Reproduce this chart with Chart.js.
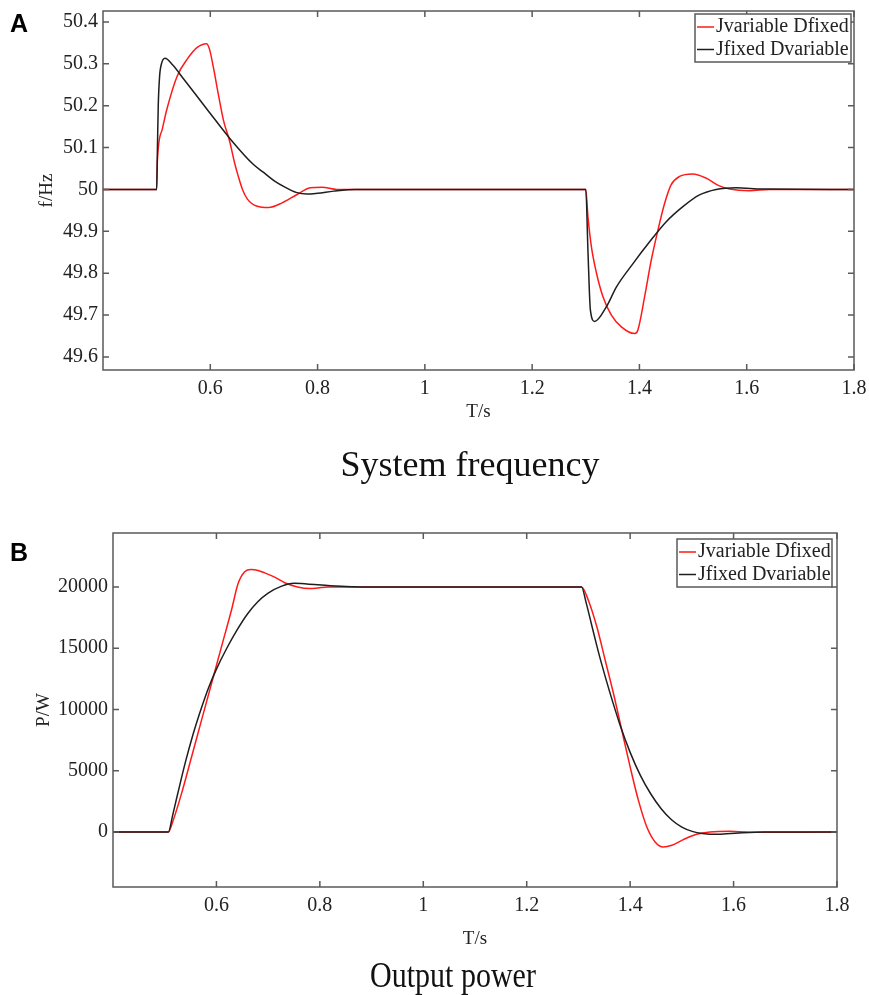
<!DOCTYPE html>
<html>
<head>
<meta charset="utf-8">
<script src="https://cdn.jsdelivr.net/npm/chart.js@4.4.1/dist/chart.umd.min.js"></script>
<style>
body { margin: 0; background: #fff; width: 869px; height: 995px; position: relative; overflow: hidden; }
canvas { position: absolute; left: 0; }
.tag { position: absolute; font: bold 25px "Liberation Sans", Arial, sans-serif; color: #000; line-height: 1; }
.cap { position: absolute; font-family: "Liberation Serif", "Times New Roman", serif; color: #111; line-height: 1; white-space: nowrap; transform: translate(-50%, -50%); }
</style>
</head>
<body>
<canvas id="chartFreq" width="869" height="490" style="top:0"></canvas>
<canvas id="chartPower" width="869" height="505" style="top:490px"></canvas>
<div class="tag" style="left:10px;top:11px">A</div>
<div class="tag" style="left:10px;top:540px">B</div>
<div class="cap" style="left:470px;top:464px;font-size:36px">System frequency</div>
<div class="cap" style="left:453px;top:975px;font-size:30px;transform:translate(-50%,-50%) scaleY(1.22)">Output power</div>
<script>
// series labels
var seriesNames = ["Jvariable Dfixed", "Jfixed Dvariable"];

// A: system frequency (Hz) vs time (s)
var freqRedT = [0.4, 0.5, 0.5012, 0.5105, 0.5198, 0.5384, 0.557, 0.5756, 0.5929, 0.5985, 0.606, 0.6153, 0.6246, 0.6363, 0.645, 0.6525, 0.66, 0.6692, 0.6873, 0.7088, 0.7338, 0.7617, 0.7864, 0.8082, 0.836, 1.3, 1.304, 1.3105, 1.32, 1.332, 1.3477, 1.3663, 1.391, 1.397, 1.4097, 1.422, 1.4345, 1.447, 1.459, 1.4748, 1.4996, 1.5245, 1.549, 1.568, 1.605, 1.642, 1.8];
var freqRed  = [50, 50, 50.064, 50.144, 50.195, 50.271, 50.311, 50.339, 50.348, 50.335, 50.29, 50.225, 50.165, 50.114, 50.065, 50.03, 50.0, 49.977, 49.96, 49.957, 49.968, 49.988, 50.004, 50.0055, 50.0, 50, 49.935, 49.863, 49.80, 49.744, 49.70, 49.672, 49.656, 49.664, 49.744, 49.831, 49.903, 49.967, 50.011, 50.031, 50.037, 50.027, 50.0085, 50.001, 49.997, 50.0, 50];
var freqBlackT = [0.4, 0.5, 0.5015, 0.503, 0.5055, 0.509, 0.5155, 0.53, 0.5507, 0.5942, 0.6376, 0.68, 0.70, 0.72, 0.74, 0.76, 0.78, 0.80, 0.83, 0.87, 1.3, 1.304, 1.3086, 1.3167, 1.3384, 1.357, 1.388, 1.419, 1.45, 1.481, 1.512, 1.543, 1.58, 1.63, 1.8];
var freqBlack  = [50, 50, 50.1, 50.2, 50.27, 50.3, 50.313, 50.297, 50.263, 50.191, 50.12, 50.06, 50.04, 50.02, 50.005, 49.993, 49.989, 49.991, 49.996, 50, 50, 49.855, 49.712, 49.685, 49.72, 49.767, 49.823, 49.875, 49.923, 49.959, 49.987, 50.0, 50.004, 50.001, 50];

// B: output power (W) vs time (s)
var powRedT = [0.4, 0.507, 0.5166, 0.5326, 0.552, 0.5712, 0.5905, 0.6097, 0.629, 0.6419, 0.6547, 0.6667, 0.6805, 0.6933, 0.7125, 0.732, 0.757, 0.78, 0.796, 0.815, 1.306, 1.3197, 1.336, 1.352, 1.368, 1.384, 1.4001, 1.416, 1.4323, 1.4483, 1.4643, 1.4805, 1.5028, 1.5286, 1.5543, 1.593, 1.63, 1.8];
var powRed  = [0, 0, 980, 3150, 6140, 9130, 12120, 15110, 18100, 20280, 21250, 21420, 21350, 21150, 20800, 20350, 20000, 19870, 19920, 20000, 20000, 18860, 16690, 13976, 11262, 8277, 5292, 2578, 407, -814, -1221, -1085, -624, -190, 0, 54, -27, 0];
var powBlackT = [0.4, 0.507, 0.515, 0.525, 0.54, 0.555, 0.57, 0.585, 0.6, 0.62, 0.64, 0.66, 0.68, 0.70, 0.725, 0.75, 0.775, 0.82, 0.9, 1.306, 1.315, 1.325, 1.335, 1.345, 1.36, 1.38, 1.40, 1.42, 1.44, 1.46, 1.48, 1.50, 1.52, 1.54, 1.57, 1.61, 1.66, 1.8];
var powBlack  = [0, 0, 1300, 3100, 5700, 8000, 10000, 11800, 13300, 15000, 16500, 17800, 18800, 19500, 20050, 20300, 20250, 20100, 20000, 20000, 18700, 17000, 15300, 13700, 11500, 8800, 6500, 4600, 3100, 1900, 1000, 400, 50, -120, -190, -80, 0, 0];

// tick labels
var timeTicks = [0.6, 0.8, 1.0, 1.2, 1.4, 1.6, 1.8];
var freqTicks = [49.6, 49.7, 49.8, 49.9, 50.0, 50.1, 50.2, 50.3, 50.4];
var powTicks  = [0, 5000, 10000, 15000, 20000];

var SERIF = "'Liberation Serif', 'Times New Roman', serif";
var RED = "#ff1a1a", BLACK = "#1e1e1e", FRAME = "#5a5a5a", TEXT = "#222";

function zip(xs, ys) {
	return xs.map(function(x, i) { return { x: x, y: ys[i] }; });
}

function fmt(v) { return String(+v.toFixed(2)); }

// MATLAB-style box with inward ticks on all four sides
var frameTicks = {
	id: 'frameTicks',
	afterDatasetsDraw: function(chart) {
		var ctx = chart.ctx, a = chart.chartArea, x = chart.scales.x, y = chart.scales.y, L = 6;
		ctx.save();
		ctx.strokeStyle = FRAME;
		ctx.lineWidth = 1.5;
		ctx.strokeRect(a.left, a.top, a.right - a.left, a.bottom - a.top);
		ctx.beginPath();
		x.ticks.forEach(function(t) {
			var px = x.getPixelForValue(t.value);
			ctx.moveTo(px, a.bottom); ctx.lineTo(px, a.bottom - L);
			ctx.moveTo(px, a.top); ctx.lineTo(px, a.top + L);
		});
		y.ticks.forEach(function(t) {
			var py = y.getPixelForValue(t.value);
			ctx.moveTo(a.left, py); ctx.lineTo(a.left + L, py);
			ctx.moveTo(a.right, py); ctx.lineTo(a.right - L, py);
		});
		ctx.stroke();
		ctx.restore();
	}
};

// boxed legend in the top right corner of the plot
var boxLegend = {
	id: 'boxLegend',
	afterDraw: function(chart, args, o) {
		var ctx = chart.ctx, a = chart.chartArea;
		var left = a.right - o.right - o.width, top = a.top + o.top;
		ctx.save();
		ctx.fillStyle = "#fff";
		ctx.fillRect(left, top, o.width, o.height);
		ctx.strokeStyle = FRAME;
		ctx.lineWidth = 1.5;
		ctx.strokeRect(left, top, o.width, o.height);
		ctx.font = "20px " + SERIF;
		ctx.textBaseline = "middle";
		chart.data.datasets.forEach(function(ds, i) {
			var yy = top + 13 + i * 22.5;
			ctx.strokeStyle = ds.borderColor;
			ctx.lineWidth = 1.5;
			ctx.beginPath(); ctx.moveTo(left + 2, yy); ctx.lineTo(left + 19, yy); ctx.stroke();
			ctx.fillStyle = TEXT;
			ctx.fillText(ds.label, left + 21, yy);
		});
		ctx.restore();
	}
};

function makeChart(id, c) {
	return new Chart(document.getElementById(id), {
		type: 'line',
		data: {
			datasets: [
				{ label: seriesNames[0], data: zip(c.redT, c.red), borderColor: RED, order: 1 },
				{ label: seriesNames[1], data: zip(c.blackT, c.black), borderColor: BLACK, order: 0 }
			]
		},
		plugins: [frameTicks, boxLegend],
		options: {
			responsive: false,
			animation: false,
			devicePixelRatio: 1,
			elements: {
				line: { borderWidth: 1.5, cubicInterpolationMode: 'monotone', fill: false },
				point: { radius: 0 }
			},
			layout: { padding: c.pad },
			plugins: {
				legend: { display: false },
				tooltip: { enabled: false },
				boxLegend: c.legend
			},
			scales: {
				x: {
					type: 'linear', min: 0.4, max: 1.8,
					afterBuildTicks: function(s) { s.ticks = timeTicks.map(function(v) { return { value: v }; }); },
					afterFit: function(s) { s.height = c.xHeight; s.paddingLeft = 0; s.paddingRight = 0; },
					grid: { display: false, drawTicks: false },
					border: { display: false },
					ticks: { autoSkip: false, maxRotation: 0, padding: 7, color: TEXT, font: { family: SERIF, size: 20 }, callback: fmt },
					title: { display: true, text: 'T/s', color: TEXT, font: { family: SERIF, size: 19 }, padding: { top: 0, bottom: c.xTitlePadB } }
				},
				y: {
					type: 'linear', min: c.yMin, max: c.yMax,
					afterBuildTicks: function(s) { s.ticks = c.yTicks.map(function(v) { return { value: v }; }); },
					afterFit: function(s) { s.width = c.yWidth; s.paddingTop = 0; s.paddingBottom = 0; },
					grid: { display: false, drawTicks: false },
					border: { display: false },
					ticks: { autoSkip: false, padding: 5, color: TEXT, font: { family: SERIF, size: 20 }, callback: fmt },
					title: { display: true, text: c.yTitle, color: TEXT, font: { family: SERIF, size: 19 }, padding: { top: c.yTitlePadT, bottom: 0 } }
				}
			}
		}
	});
}

makeChart("chartFreq", {
	redT: freqRedT, red: freqRed, blackT: freqBlackT, black: freqBlack,
	yTitle: "f/Hz",
	yMin: 49.569, yMax: 50.426, yTicks: freqTicks,
	pad: { left: 0, top: 11, right: 15, bottom: 45 },
	yWidth: 103, xHeight: 75, xTitlePadB: 22, yTitlePadT: 36,
	legend: { right: 3, top: 3, width: 156, height: 48 }
});

makeChart("chartPower", {
	redT: powRedT, red: powRed, blackT: powBlackT, black: powBlack,
	yTitle: "P/W",
	yMin: -4490, yMax: 24408, yTicks: powTicks,
	pad: { left: 0, top: 43, right: 32, bottom: 38 },
	yWidth: 113, xHeight: 70, xTitlePadB: 7, yTitlePadT: 33,
	legend: { right: 5, top: 6, width: 155, height: 48 }
});
</script>
</body>
</html>
